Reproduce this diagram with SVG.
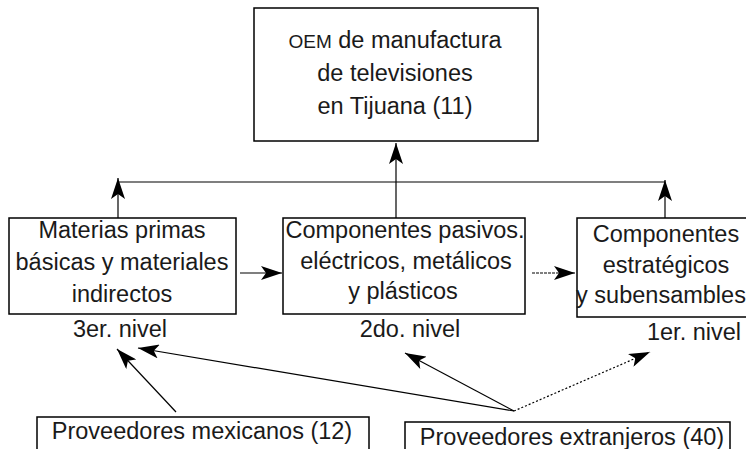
<svg xmlns="http://www.w3.org/2000/svg" width="746" height="449" viewBox="0 0 746 449">
<style>
  .box { fill: #ffffff; stroke: #000000; stroke-width: 1.5; }
  .t { font-family: "Liberation Sans", Arial, sans-serif; font-size: 23.5px; fill: #1a1a1a; text-anchor: middle; }
  .sm { font-size: 19px; }
  .ln { fill: none; stroke: #000000; stroke-width: 1.2; }
  .dot { stroke-dasharray: 2 2; }
  .dash { stroke-dasharray: 3 1; }
</style>
<defs>
  <marker id="ah" viewBox="0 0 21 14" refX="21" refY="7" markerWidth="21" markerHeight="14" markerUnits="userSpaceOnUse" orient="auto">
    <path d="M0,0 L21,7 L0,14 L5,7 z" fill="#000000"/>
  </marker>
</defs>

<g id="connectors">
  <line class="ln" x1="118" y1="182" x2="665" y2="182"/>
  <line class="ln" x1="118" y1="218" x2="118" y2="178" marker-end="url(#ah)"/>
  <line class="ln" x1="396" y1="218" x2="396" y2="143" marker-end="url(#ah)"/>
  <line class="ln" x1="665" y1="218" x2="665" y2="180" marker-end="url(#ah)"/>
  <line class="ln" x1="240" y1="273" x2="282" y2="273" marker-end="url(#ah)"/>
  <line class="ln dash" x1="532" y1="273" x2="575" y2="273" marker-end="url(#ah)"/>
  <line class="ln" x1="176" y1="412" x2="117" y2="349" marker-end="url(#ah)"/>
  <line class="ln" x1="514" y1="411" x2="138" y2="348" marker-end="url(#ah)"/>
  <line class="ln" x1="514" y1="411" x2="405" y2="353" marker-end="url(#ah)"/>
  <line class="ln dot" x1="514" y1="411" x2="650" y2="352" marker-end="url(#ah)"/>
</g>

<g id="oem">
  <rect class="box" x="254" y="8" width="284" height="133"/>
  <text class="t" x="395" y="48"><tspan class="sm">OEM</tspan> de manufactura</text>
  <text class="t" x="395" y="81">de televisiones</text>
  <text class="t" x="395" y="114">en Tijuana (11)</text>
</g>

<g id="nivel3">
  <rect class="box" x="9" y="218" width="227" height="96"/>
  <text class="t" x="122" y="238">Materias primas</text>
  <text class="t" x="122" y="270">básicas y materiales</text>
  <text class="t" x="122" y="302">indirectos</text>
  <text class="t" x="120" y="337">3er. nivel</text>
</g>

<g id="nivel2">
  <rect class="box" x="283" y="218" width="242" height="96"/>
  <text class="t" x="405" y="238">Componentes pasivos.</text>
  <text class="t" x="406" y="269">eléctricos, metálicos</text>
  <text class="t" x="403" y="299">y plásticos</text>
  <text class="t" x="410" y="337">2do. nivel</text>
</g>

<g id="nivel1">
  <rect class="box" x="577" y="218" width="190" height="99"/>
  <text class="t" x="666" y="242">Componentes</text>
  <text class="t" x="666" y="273">estratégicos</text>
  <text class="t" x="661" y="303">y subensambles</text>
  <text class="t" x="694" y="340">1er. nivel</text>
</g>

<g id="mexicanos">
  <rect class="box" x="37" y="417" width="332" height="40"/>
  <text class="t" x="202" y="439">Proveedores mexicanos (12)</text>
</g>

<g id="extranjeros">
  <rect class="box" x="405" y="422" width="325" height="40"/>
  <text class="t" x="572" y="445">Proveedores extranjeros (40)</text>
</g>
</svg>
